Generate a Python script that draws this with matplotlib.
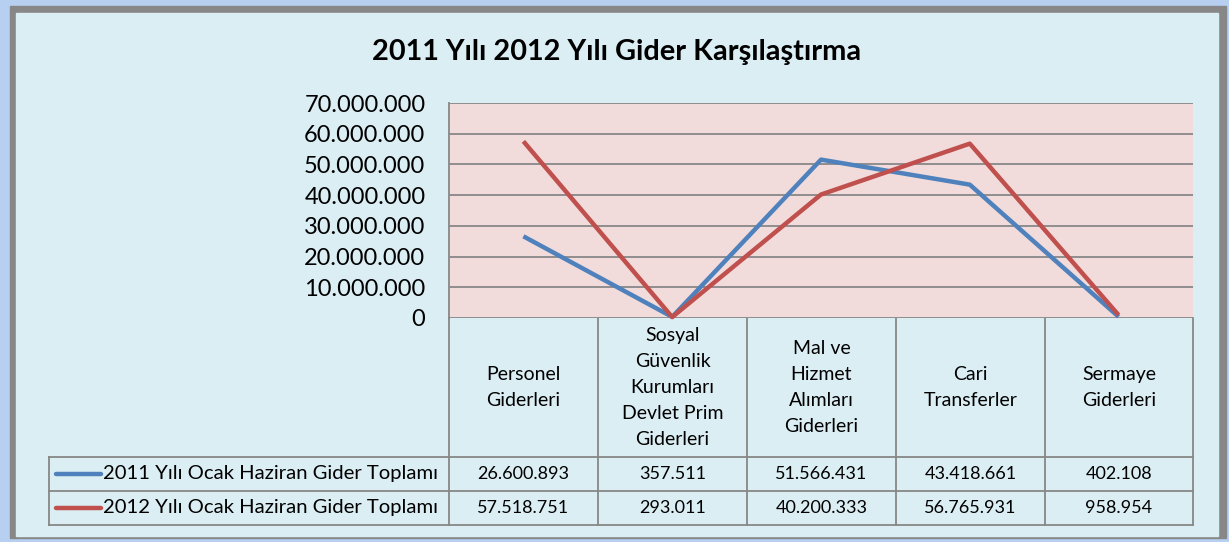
import matplotlib.pyplot as plt
from matplotlib.patches import Rectangle
from matplotlib.ticker import FuncFormatter

# veriler
kategoriler = ["Personel\nGiderleri",
               "Sosyal\nGüvenlik\nKurumları\nDevlet Prim\nGiderleri",
               "Mal ve\nHizmet\nAlımları\nGiderleri",
               "Cari\nTransferler",
               "Sermaye\nGiderleri"]
seri_adlari = ["2011 Yılı Ocak Haziran Gider Toplamı",
               "2012 Yılı Ocak Haziran Gider Toplamı"]
gider_2011 = [26600893, 357511, 51566431, 43418661, 402108]
gider_2012 = [57518751, 293011, 40200333, 56765931, 958954]
y_ticks = [0, 10000000, 20000000, 30000000, 40000000, 50000000, 60000000, 70000000]
baslik = "2011 Yılı 2012 Yılı Gider Karşılaştırma"

renkler = ["#4F81BD", "#C0504D"]
W, H = 1229, 542
FONT = "Lato"


def nokta(v):
    return f"{v:,.0f}".replace(",", ".")


fig = plt.figure(figsize=(W / 100, H / 100), dpi=100)
fig.patch.set_facecolor("#B7D0F2")

# arka plan ve tablo icin piksel koordinatli eksen
bg = fig.add_axes([0, 0, 1, 1], zorder=0)
bg.set_xlim(0, W)
bg.set_ylim(H, 0)
bg.axis("off")
bg.add_patch(Rectangle((10, 6), 1216, 532, color="#878787"))
bg.add_patch(Rectangle((16, 13), 1202, 523, color="#DBEEF4"))

# ana grafik
x0, x1, ytop, ybot = 449, 1193, 103, 318
ax = fig.add_axes([x0 / W, 1 - ybot / H, (x1 - x0) / W, (ybot - ytop) / H], zorder=2)
ax.set_facecolor("#F2DCDB")
xs = range(len(kategoriler))
for vals, c in zip([gider_2011, gider_2012], renkler):
    ax.plot(xs, vals, color=c, lw=3.2, solid_capstyle="butt", clip_on=False, zorder=3)
ax.set_xlim(-0.5, len(kategoriler) - 0.5)
ax.set_ylim(0, 70000000)
ax.set_yticks(y_ticks)
ax.yaxis.set_major_formatter(FuncFormatter(lambda v, p: nokta(v)))
ax.grid(axis="y", color="#878787", lw=1.3)
ax.set_axisbelow(True)
ax.set_xticks([])
ax.tick_params(axis="y", length=0, pad=17, labelsize=17)
for lab in ax.get_yticklabels():
    lab.set_fontfamily(FONT)
for s in ["top", "right", "bottom"]:
    ax.spines[s].set_visible(False)
ax.spines["left"].set_color("#878787")
ax.spines["left"].set_linewidth(1.3)

fig.text(617 / W, 1 - 52 / H, baslik, ha="center", va="center",
         fontsize=20.8, fontweight="bold", family=FONT)

# veri tablosu
lc = "#878787"
col_x = [449, 598, 747, 896, 1045, 1193]
row_y = [318, 457, 491, 525]
for cx in col_x:
    bg.plot([cx, cx], [row_y[0], row_y[-1]], color=lc, lw=1.3)
bg.plot([49, 49], [row_y[1], row_y[-1]], color=lc, lw=1.3)
for ry in row_y[1:]:
    bg.plot([49, 1193], [ry, ry], color=lc, lw=1.3)

for i, kat in enumerate(kategoriler):
    cx = (col_x[i] + col_x[i + 1]) / 2
    bg.text(cx, (row_y[0] + row_y[1]) / 2, kat, ha="center", va="center",
            fontsize=14, family=FONT, linespacing=1.65)

for r, (ad, vals, c) in enumerate(zip(seri_adlari, [gider_2011, gider_2012], renkler)):
    cy = (row_y[r + 1] + row_y[r + 2]) / 2
    bg.plot([56, 101], [cy, cy], color=c, lw=3.2, solid_capstyle="round")
    bg.text(103, cy, ad, ha="left", va="center", fontsize=14.6, family=FONT)
    for i, v in enumerate(vals):
        cx = (col_x[i] + col_x[i + 1]) / 2
        bg.text(cx, cy, nokta(v), ha="center", va="center", fontsize=13, family=FONT)

fig.savefig("out.png", dpi=100, facecolor=fig.get_facecolor())
